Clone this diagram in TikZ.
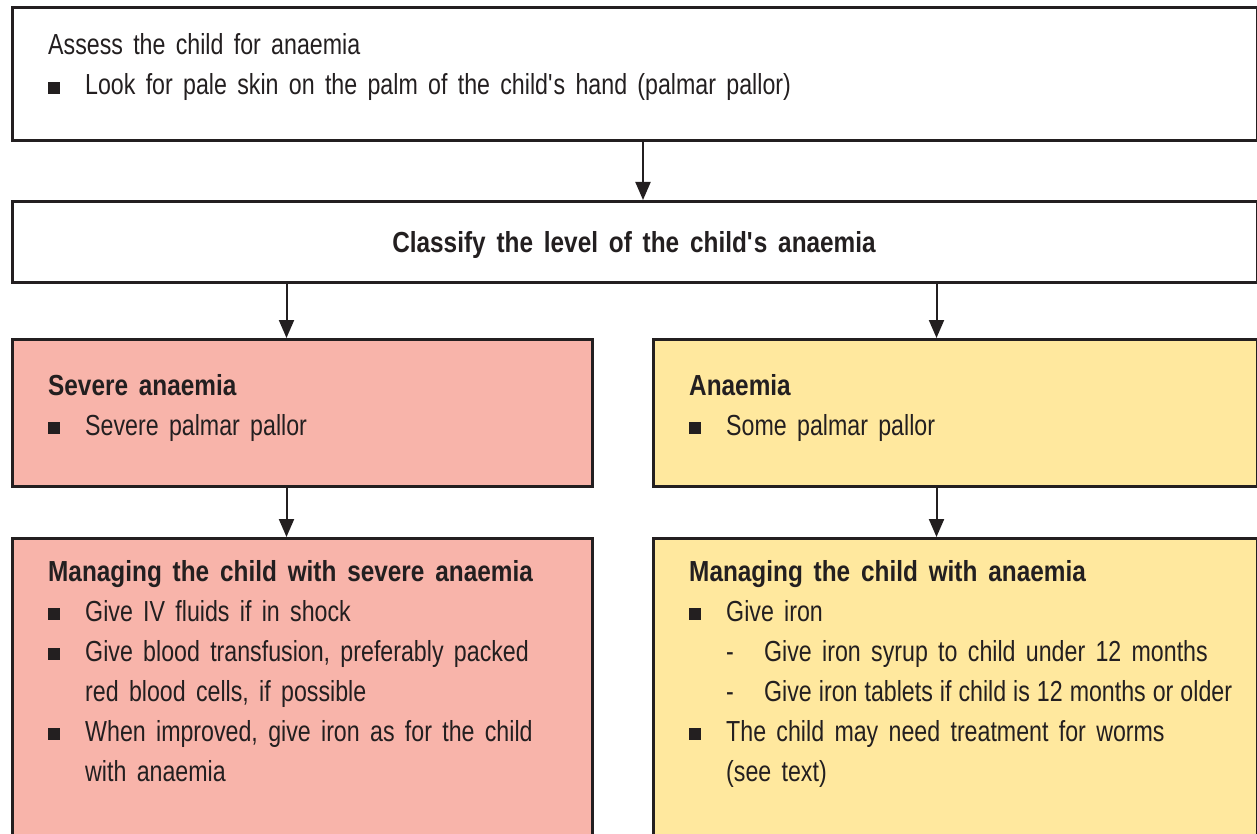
\documentclass[tikz,border=0pt]{standalone}
\usepackage{fontspec}
\setmainfont{Liberation Sans}[FakeStretch=0.80,WordSpace=1.6,BoldFeatures={FakeStretch=0.84}]
\usetikzlibrary{arrows.meta}
\definecolor{pinkfill}{HTML}{F8B4AA}
\definecolor{yellowfill}{HTML}{FFE89E}
\definecolor{edge}{HTML}{231F20}
\newcommand{\blt}{\makebox[37pt][l]{\raisebox{1pt}{\rule{12pt}{12pt}}}}
\newcommand{\dsh}{\makebox[38pt][l]{-}}
\newcommand{\gap}{\hspace*{37pt}}
\newcommand{\apos}{\textquotesingle}
\tikzset{
  box/.style={draw=edge,line width=3pt,anchor=north west,inner sep=0pt},
  txt/.style={anchor=base west,inner sep=0pt,align=left,text=edge,
    font=\fontsize{29}{40}\selectfont},
  arr/.style={draw=edge,line width=2pt,-{Triangle[length=18pt,width=15pt]}}
}
\begin{document}
\begin{tikzpicture}[x=1pt,y=-1pt]
  \useasboundingbox (0,0) rectangle (1257,834);
  \clip (0,0) rectangle (1257,834);
  % boxes
  \node[box,minimum width=1245pt,minimum height=133pt] (assess) at (11,6) {};
  \node[box,minimum width=1245pt,minimum height=81pt] (classify) at (11,200) {};
  \node[box,fill=pinkfill,minimum width=580pt,minimum height=147pt] (severe) at (11,338) {};
  \node[box,fill=yellowfill,minimum width=604pt,minimum height=147pt] (anaemia) at (652,338) {};
  \node[box,fill=pinkfill,minimum width=580pt,minimum height=330pt] (mansevere) at (11,537) {};
  \node[box,fill=yellowfill,minimum width=604pt,minimum height=330pt] (mananaemia) at (652,537) {};
  % texts (anchored at the baseline of the last line)
  \node[txt] (assesstxt) at (48,95) {Assess the child for anaemia\\
    \blt Look for pale skin on the palm of the child\apos s hand (palmar pallor)};
  \node[txt,anchor=base] (classifytxt) at (634,252) {\bfseries Classify the level of the child\apos s anaemia};
  \node[txt] (severetxt) at (48,435) {\bfseries Severe anaemia\\
    \blt Severe palmar pallor};
  \node[txt] (anaemiatxt) at (689,435) {\bfseries Anaemia\\
    \blt Some palmar pallor};
  \node[txt] (mansameretxt) at (48,781) {\bfseries Managing the child with severe anaemia\\
    \blt Give IV fluids if in shock\\
    \blt Give blood transfusion, preferably packed\\
    \gap red blood cells, if possible\\
    \blt When improved, give iron as for the child\\
    \gap with anaemia};
  \node[txt] (mananaemiatxt) at (689,781) {\bfseries Managing the child with anaemia\\
    \blt Give iron\\
    \gap\dsh Give iron syrup to child under 12 months\\
    \gap\dsh {\spaceskip=7pt Give iron tablets if child is 12 months or older}\\
    \blt The child may need treatment for worms\\
    \gap (see text)};
  % arrows
  \draw[arr] ([xshift=8pt]assess.south) -- ([xshift=8pt]classify.north);
  \draw[arr] ([xshift=-16pt]severe.north |- classify.south) -- ([xshift=-16pt]severe.north);
  \draw[arr] ([xshift=-19pt]anaemia.north |- classify.south) -- ([xshift=-19pt]anaemia.north);
  \draw[arr] ([xshift=-16pt]severe.south) -- ([xshift=-16pt]mansevere.north);
  \draw[arr] ([xshift=-19pt]anaemia.south) -- ([xshift=-19pt]mananaemia.north);
\end{tikzpicture}
\end{document}
